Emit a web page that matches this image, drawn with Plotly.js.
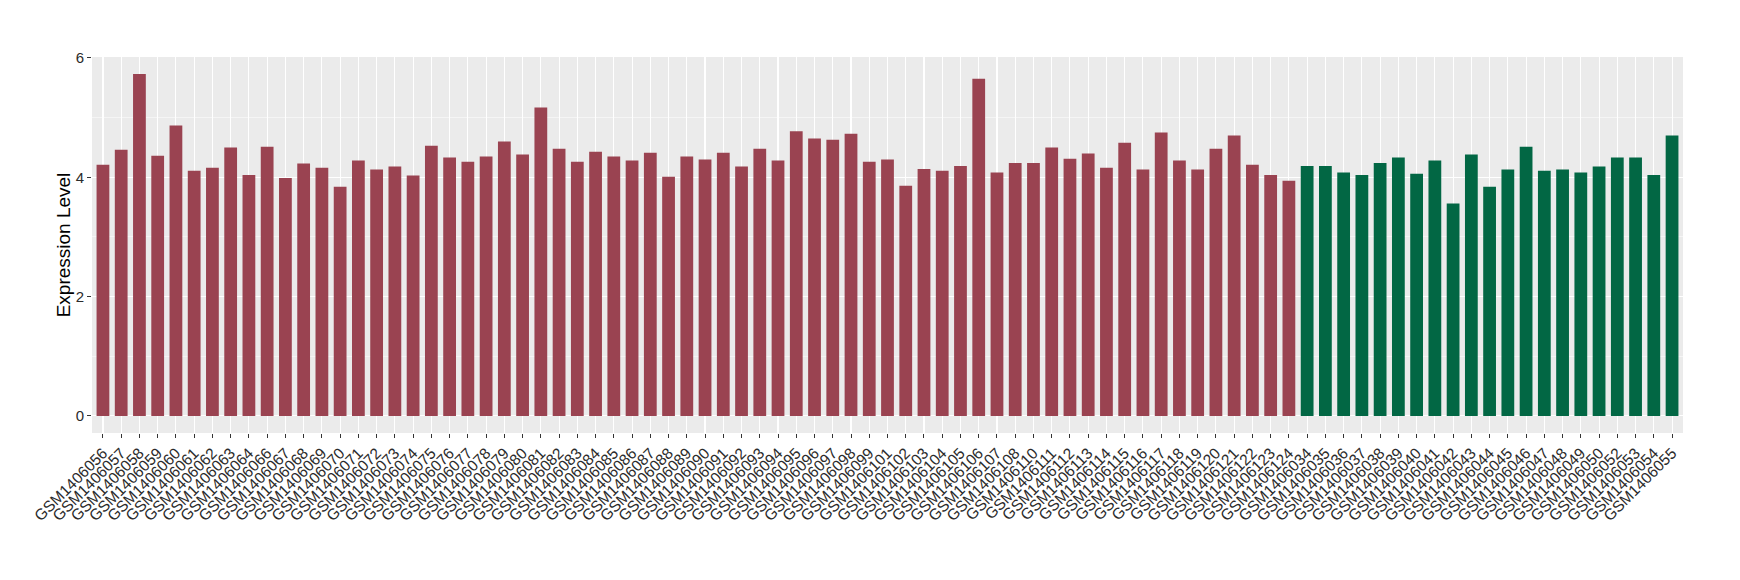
<!DOCTYPE html>
<html>
<head>
<meta charset="utf-8">
<script src="https://cdn.plot.ly/plotly-3.0.1.min.js"></script>
<style>
  html, body { margin: 0; padding: 0; background: #ffffff; }
  #chart { width: 1740px; height: 580px; }
</style>
</head>
<body>
<div id="chart"></div>
<script>
// Sample identifiers (x categories, in plotted order)
const samples = [
  "GSM1406056","GSM1406057","GSM1406058","GSM1406059","GSM1406060","GSM1406061","GSM1406062","GSM1406063","GSM1406064","GSM1406066",
  "GSM1406067","GSM1406068","GSM1406069","GSM1406070","GSM1406071","GSM1406072","GSM1406073","GSM1406074","GSM1406075","GSM1406076",
  "GSM1406077","GSM1406078","GSM1406079","GSM1406080","GSM1406081","GSM1406082","GSM1406083","GSM1406084","GSM1406085","GSM1406086",
  "GSM1406087","GSM1406088","GSM1406089","GSM1406090","GSM1406091","GSM1406092","GSM1406093","GSM1406094","GSM1406095","GSM1406096",
  "GSM1406097","GSM1406098","GSM1406099","GSM1406101","GSM1406102","GSM1406103","GSM1406104","GSM1406105","GSM1406106","GSM1406107",
  "GSM1406108","GSM1406110","GSM1406111","GSM1406112","GSM1406113","GSM1406114","GSM1406115","GSM1406116","GSM1406117","GSM1406118",
  "GSM1406119","GSM1406120","GSM1406121","GSM1406122","GSM1406123","GSM1406124",
  "GSM1406034","GSM1406035","GSM1406036","GSM1406037","GSM1406038","GSM1406039","GSM1406040","GSM1406041","GSM1406042","GSM1406043",
  "GSM1406044","GSM1406045","GSM1406046","GSM1406047","GSM1406048","GSM1406049","GSM1406050","GSM1406052","GSM1406053","GSM1406054",
  "GSM1406055"
];

// Expression levels
const expression = [
  4.21, 4.46, 5.73, 4.36, 4.87, 4.11, 4.16, 4.50, 4.04, 4.51,
  3.99, 4.23, 4.16, 3.84, 4.28, 4.13, 4.18, 4.03, 4.53, 4.33,
  4.26, 4.35, 4.60, 4.38, 5.17, 4.48, 4.26, 4.43, 4.35, 4.28,
  4.41, 4.01, 4.35, 4.30, 4.41, 4.18, 4.48, 4.28, 4.77, 4.65,
  4.63, 4.73, 4.26, 4.30, 3.86, 4.14, 4.11, 4.19, 5.65, 4.08,
  4.24, 4.24, 4.50, 4.31, 4.40, 4.16, 4.58, 4.13, 4.75, 4.28,
  4.13, 4.48, 4.70, 4.21, 4.04, 3.94,
  4.19, 4.19, 4.08, 4.04, 4.24, 4.33, 4.06, 4.28, 3.56, 4.38,
  3.84, 4.13, 4.51, 4.11, 4.13, 4.08, 4.18, 4.33, 4.33, 4.04,
  4.70
];

// Group of each sample (66 in group A, 21 in group B)
const groups = samples.map((s, i) => (i < 66 ? "A" : "B"));
const groupColors = { A: "#9A4351", B: "#026744" };

// Y tick labels
const yTicks = [0, 2, 4, 6];

const trace = {
  type: "bar",
  x: samples,
  y: expression,
  width: 0.7,
  marker: { color: groups.map(g => groupColors[g]), line: { width: 0 } },
  hoverinfo: "x+y",
  showlegend: false
};

const layout = {
  width: 1740,
  height: 580,
  paper_bgcolor: "#ffffff",
  plot_bgcolor: "#EBEBEB",
  margin: { l: 92.3, r: 57.3, t: 57.3, b: 147.3, pad: 0 },
  font: { family: "Liberation Sans, Arial, sans-serif", color: "#333333" },
  xaxis: {
    type: "category",
    range: [-0.6, samples.length - 0.4],
    tickmode: "array",
    tickvals: samples,
    ticktext: samples,
    tickangle: -45,
    tickfont: { size: 15.5, color: "#2b2b2b", family: "Liberation Sans, Arial, sans-serif" },
    ticks: "outside",
    ticklen: 4,
    tickwidth: 1,
    tickcolor: "#333333",
    showgrid: true,
    gridcolor: "#ffffff",
    gridwidth: 1.1,
    zeroline: false,
    showline: false,
    automargin: false,
    fixedrange: true
  },
  yaxis: {
    range: [-0.2865, 6.0165],
    tickmode: "array",
    tickvals: yTicks,
    ticktext: yTicks.map(String),
    tickfont: { size: 15, color: "#2b2b2b", family: "Liberation Sans, Arial, sans-serif" },
    ticks: "outside",
    ticklen: 4,
    tickwidth: 1,
    tickcolor: "#333333",
    showgrid: true,
    gridcolor: "#ffffff",
    gridwidth: 1.1,
    minor: { tickvals: [1, 3, 5], showgrid: true, gridcolor: "#ffffff", gridwidth: 0.5, ticks: "" },
    zeroline: false,
    showline: false,
    automargin: false,
    fixedrange: true,
    title: {
      text: "Expression Level",
      font: { size: 19, color: "#000000", family: "Liberation Sans, Arial, sans-serif" },
      standoff: 0
    }
  },
  bargap: 0.3
};

Plotly.newPlot("chart", [trace], layout, { displayModeBar: false, staticPlot: true });
</script>
</body>
</html>
